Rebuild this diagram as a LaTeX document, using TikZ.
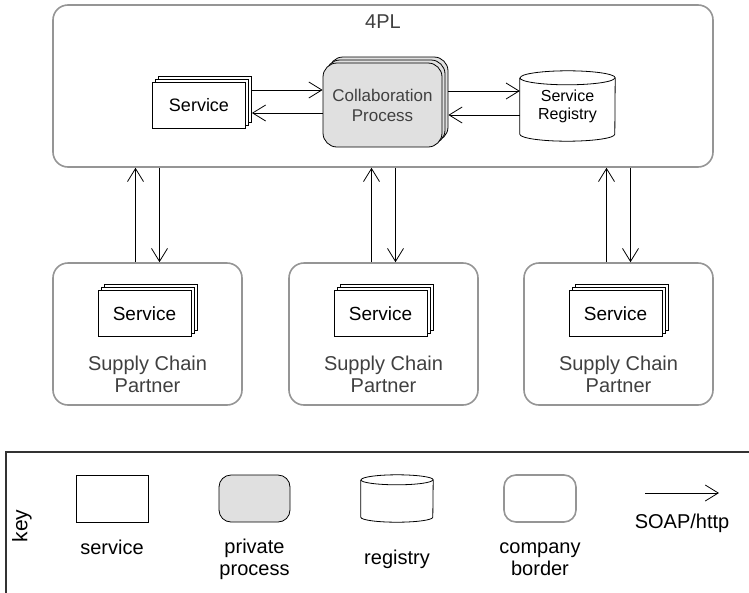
\documentclass[tikz,border=0pt]{standalone}
\usepackage{fontspec}
\setmainfont{Liberation Sans}
\usepackage{xcolor}
\usepackage{tikz}
\usetikzlibrary{arrows.meta}
\usetikzlibrary{positioning}

\definecolor{txtgray}{HTML}{404040}
\definecolor{bordergray}{HTML}{959595}
\definecolor{procgray}{HTML}{E0E0E0}

\begin{document}
\begin{tikzpicture}[
    x=1pt, y=-1pt,
    company/.style={draw=bordergray, line width=1.6pt, rounded corners=15pt, inner sep=0pt},
    svc/.style={draw, fill=white, line width=0.8pt, minimum width=93pt, minimum height=46pt,
        inner sep=0pt, font=\fontsize{19}{22}\selectfont},
    proc/.style={draw, fill=procgray, line width=0.8pt, rounded corners=14pt, minimum width=119pt,
        minimum height=84pt, inner sep=0pt, align=center, text=txtgray, font=\fontsize{17}{20}\selectfont},
    lbl/.style={align=center, font=\fontsize{20}{22}\selectfont},
    soap/.style={-{Straight Barb[length=13pt,width=16pt]}, line width=0.8pt}
  ]
  \useasboundingbox (0,0) rectangle (749,592);

  % 4PL
  \node [company, minimum width=660pt, minimum height=162pt] (fourpl) at (383,86) {};
  \node [lbl, text=txtgray] (fourpllbl) at (383,22) {4PL};

  \node [svc] (svcC) at (205,99) {};
  \node [svc] (svcB) at (202,102) {};
  \node [svc, font=\fontsize{18}{21}\selectfont] (svc) at (199,105) {Service};

  \node [proc] (collabC) at (388.5,99) {};
  \node [proc] (collabB) at (385.5,102) {};
  \node [proc] (collab) at (382.5,105) {Collaboration\\Process};

  \node [lbl, minimum width=95pt, minimum height=70pt, inner sep=0pt,
         font=\fontsize{16}{18}\selectfont] (reg) at (567.5,106) {Service\\Registry};
  \draw [line width=0.8pt] ([yshift=-7pt]reg.north west) -- ([yshift=7pt]reg.south west)
      arc [start angle=180, end angle=360, x radius=47.5pt, y radius=7pt]
      -- ([yshift=-7pt]reg.north east)
      arc [start angle=0, end angle=180, x radius=47.5pt, y radius=7pt];
  \draw [line width=0.8pt] ([yshift=-7pt]reg.north west)
      arc [start angle=180, end angle=360, x radius=47.5pt, y radius=7pt];

  \draw [soap] (svcC.east |- 0,90) -- (collab.west |- 0,90);
  \draw [soap] (collab.west |- 0,113) -- (svcC.east |- 0,113);
  \draw [soap] (collabC.east |- 0,91) -- (reg.west |- 0,91);
  \draw [soap] (reg.west |- 0,115) -- (collabC.east |- 0,115);

  % partners
  \foreach \i/\cx in {1/147.5, 2/383.5, 3/618.5} {
    \node [company, minimum width=189pt, minimum height=142pt] (p\i) at (\cx,334) {};
    \node [svc] (ps\i C) at (\cx+3,307.5) {};
    \node [svc] (ps\i B) at (\cx,310.5) {};
    \node [svc] (ps\i) at (\cx-3,313.5) {Service};
    \node [lbl, text=txtgray] (pl\i) at (\cx,374) {Supply Chain\\Partner};
    \draw [soap] (\cx-12,0 |- p\i.north) -- (\cx-12,0 |- fourpl.south);
    \draw [soap] (\cx+12,0 |- fourpl.south) -- (\cx+12,0 |- p\i.north);
  }

  % key
  \draw [line width=1.2pt, draw=black!80] (6,452) rectangle (770,610);
  \node [lbl, rotate=90, font=\fontsize{21}{23}\selectfont] (keylbl) at (22,526) {key};

  \node [draw, line width=0.8pt, minimum width=72pt, minimum height=47pt] (ksvc) at (112,498.5) {};
  \node [lbl] (ksvclbl) at (112,547) {service};

  \node [draw, fill=procgray, line width=0.8pt, rounded corners=12pt, minimum width=71pt,
         minimum height=47pt] (kproc) at (254.5,498.5) {};
  \node [lbl] (kproclbl) at (254.5,559) {private\\process};

  \node [minimum width=72pt, minimum height=47pt, inner sep=0pt] (kreg) at (397,498.5) {};
  \draw [line width=0.8pt] ([yshift=-5pt]kreg.north west) -- ([yshift=5pt]kreg.south west)
      arc [start angle=180, end angle=360, x radius=36pt, y radius=5pt]
      -- ([yshift=-5pt]kreg.north east)
      arc [start angle=0, end angle=180, x radius=36pt, y radius=5pt];
  \draw [line width=0.8pt] ([yshift=-5pt]kreg.north west)
      arc [start angle=180, end angle=360, x radius=36pt, y radius=5pt];
  \node [lbl] (kreglbl) at (397,559) {registry};

  \node [company, minimum width=72pt, minimum height=47pt, rounded corners=12pt] (kcomp) at (540,498.5) {};
  \node [lbl] (kcomplbl) at (540,559) {company\\border};

  \coordinate (ksoapA) at (645,493);
  \coordinate (ksoapB) at (719,493);
  \draw [soap] (ksoapA) -- (ksoapB);
  \node [lbl] (ksoaplbl) at (682,523) {SOAP/http};
\end{tikzpicture}
\end{document}
